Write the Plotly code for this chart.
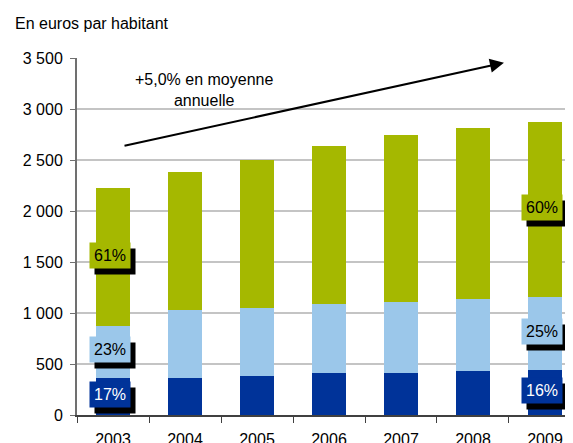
import plotly.graph_objects as go

years = ["2003", "2004", "2005", "2006", "2007", "2008", "2009"]
dark_blue = [363, 363, 382, 412, 412, 431, 441]
light_blue = [510, 666, 667, 679, 696, 706, 716]
green = [1352, 1353, 1451, 1546, 1637, 1677, 1716]

# percent labels shown on first and last bars
label_years = [0, 6]
dark_labels = ["17%", "16%"]
light_labels = ["23%", "25%"]
green_labels = ["61%", "60%"]

y_ticks = [0, 500, 1000, 1500, 2000, 2500, 3000, 3500]

C_DARK = "#003399"
C_LIGHT = "#9bc7ea"
C_GREEN = "#a5b800"
FONT = "Liberation Sans, Arial, sans-serif"
FS = 16

fig = go.Figure()
for vals, col in [(dark_blue, C_DARK), (light_blue, C_LIGHT), (green, C_GREEN)]:
    fig.add_trace(go.Bar(x=years, y=vals, marker=dict(color=col, line=dict(width=0)),
                         width=0.46, showlegend=False, hoverinfo="skip"))

annotations = []

def add_label(xi, ymid, text, bg, fc):
    common = dict(x=xi, y=ymid, xref="x", yref="y", showarrow=False, text=text,
                  borderpad=4)
    annotations.append(dict(common, font=dict(family=FONT, size=FS, color="black"),
                            bgcolor="black", xshift=2, yshift=-4))
    annotations.append(dict(common, font=dict(family=FONT, size=FS, color=fc),
                            bgcolor=bg, xshift=-3, yshift=2))

for k, i in enumerate(label_years):
    d = dark_blue[i]
    l = light_blue[i]
    g = green[i]
    add_label(i, d / 2, dark_labels[k], C_DARK, "white")
    add_label(i, d + l / 2, light_labels[k], C_LIGHT, "black")
    add_label(i, d + l + g / 2, green_labels[k], C_GREEN, "black")

# trend arrow
annotations.append(dict(x=5.43, y=3454, ax=0.139, ay=2637, xref="x", yref="y",
                        axref="x", ayref="y", text="", showarrow=True,
                        arrowhead=2, arrowsize=1.4, arrowwidth=2, arrowcolor="black"))
annotations.append(dict(x=1.27, y=3186, xref="x", yref="y", showarrow=False,
                        text="+5,0% en moyenne<br>annuelle",
                        font=dict(family=FONT, size=FS, color="black")))

fig.update_layout(
    width=573, height=443,
    margin=dict(l=69, r=8, t=50, b=36, autoexpand=False),
    paper_bgcolor="white", plot_bgcolor="white",
    barmode="stack",
    separators=", ",
    font=dict(family=FONT, size=FS, color="black"),
    title=dict(text="En euros par habitant", x=7 / 573, xanchor="left",
               y=1 - 15 / 443, yanchor="middle", xref="container", yref="container",
               font=dict(family=FONT, size=FS, color="black")),
    annotations=annotations,
    xaxis=dict(type="category", range=[-0.5, 6.389], showgrid=False, automargin=False,
               showline=True, linecolor="#404040", linewidth=2,
               ticks="outside", tickson="boundaries", ticklen=6, tickcolor="#404040",
               tickwidth=1, ticklabelstandoff=9,
               tickfont=dict(family=FONT, size=FS, color="black")),
    yaxis=dict(range=[0, 3500], tickvals=y_ticks, tickformat=",d", automargin=False,
               showgrid=True, gridcolor="#c4c4c4", gridwidth=2,
               showline=True, linecolor="#707070", linewidth=2,
               ticks="outside", ticklen=5, tickcolor="#707070",
               ticklabelstandoff=4, zeroline=False,
               tickfont=dict(family=FONT, size=FS, color="black")),
)

fig.write_html("out.html")
